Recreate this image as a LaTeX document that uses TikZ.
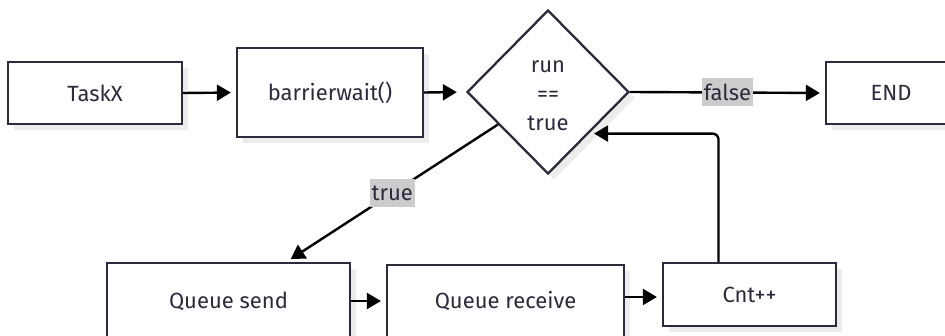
\documentclass[tikz,border=0pt]{standalone}
\usepackage{fontspec}
\setmainfont{Fira Sans}
\usetikzlibrary{shapes.geometric, arrows.meta, shadows, calc}

\definecolor{ink}{HTML}{2B2B3C}
\definecolor{shade}{HTML}{ECECEC}
\definecolor{tag}{HTML}{CCCCCC}

\begin{document}
\begin{tikzpicture}[x=1pt, y=-1pt,
  txt/.style={text=ink, font=\fontsize{22}{29}\selectfont},
  base/.style={txt, draw=ink, line width=2.3pt, fill=white, inner sep=0pt,
    general shadow={fill=shade, shadow xshift=6pt, shadow yshift=-6pt}},
  box/.style={base, rectangle},
  decision/.style={base, diamond, align=center},
  arr/.style={draw=black, line width=2.4pt, -{Triangle[length=14pt, width=16pt]}, shorten >=5pt},
  lab/.style={txt, fill=tag, inner xsep=2pt, inner ysep=0pt, minimum height=28pt}]

  \useasboundingbox (0,0) rectangle (945,336);
  \fill[white] (0,0) rectangle (945,336);
  \clip (0,0) rectangle (945,336);

  % top row
  \node[box, minimum width=174pt, minimum height=62pt] (task) at (95,93) {TaskX};
  \node[box, minimum width=186pt, minimum height=89pt] (wait) at (330,92.5) {barrierwait()};
  \node[decision, minimum width=162pt, minimum height=164pt] (dia) at (548,92) {};
  \node[txt, align=center] (cond) at (548,96) {run\\==\\true};
  \node[box, minimum width=130pt, minimum height=62pt] (end) at (891,93) {END};

  % bottom row
  \node[box, minimum width=243pt, minimum height=76pt] (qs) at (228.5,301) {Queue send};
  \node[box, minimum width=237pt, minimum height=72pt] (qr) at (505.5,301) {Queue receive};
  \node[box, minimum width=173pt, minimum height=63pt] (cnt) at (749.5,294.5) {Cnt++};

  \coordinate (qsin) at ($(qs.north)+(58,0)$);

  % connectors
  \draw[arr] (task.east) -- (wait.west);
  \draw[arr, shorten >=9pt] (wait.east) -- (dia.west);
  \draw[arr] (dia.east) -- node[lab] {false} (end.west);
  \draw[arr] (dia) -- node[lab] {true} (qsin);
  \draw[arr] (qs.east) -- (qr.west);
  \draw[arr] ([yshift=4pt]qr.east) -- ([yshift=4pt]qr.east -| cnt.west);
  \draw[arr, rounded corners=6pt] ([xshift=-31pt]cnt.north) |- (dia.south east);
\end{tikzpicture}
\end{document}
